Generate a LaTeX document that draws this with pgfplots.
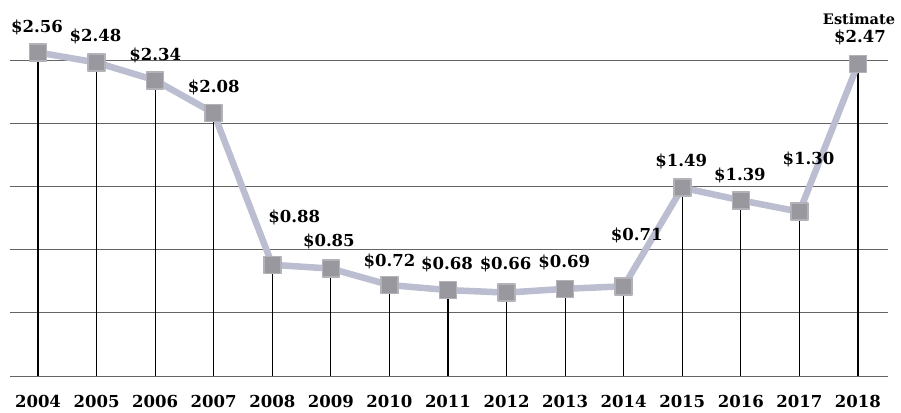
\documentclass[border=0pt]{standalone}
\usepackage{pgfplots}
\pgfplotsset{compat=1.18}
\usepackage{pgfplotstable}
\usepackage{fontspec}
\setmainfont{DejaVu Serif}
\definecolor{linec}{RGB}{186,190,208}
\definecolor{markf}{RGB}{152,152,158}
\definecolor{markd}{RGB}{178,178,184}
\definecolor{gridc}{RGB}{100,100,100}
\pgfplotstableread{
x y dx dy
2004 2.56 -1 25
2005 2.48 -1 26
2006 2.34 0 25
2007 2.08 0 26
2008 0.88 22 47
2009 0.85 -2 27
2010 0.72 0 24
2011 0.68 -1 26
2012 0.66 -1 28
2013 0.69 -1 26
2014 0.71 13 51
2015 1.49 -1 26
2016 1.39 -1 25
2017 1.30 9 52
2018 2.47 2 26
}\prices
\begin{document}
\begin{tikzpicture}
\begin{axis}[
  scale only axis,
  width=878pt, height=316pt,
  xmin=2003.522, xmax=2018.512,
  ymin=0, ymax=2.5,
  clip=false,
  axis line style={draw=none},
  major tick length=0pt,
  xtick={2004,...,2018},
  ytick={0,0.5,...,2.5},
  yticklabels={},
  ymajorgrids,
  grid style={gridc, line width=0.8pt},
  /pgf/number format/1000 sep={},
  /pgf/number format/assume math mode=true,
  xticklabel style={font=\bfseries\fontsize{16.5}{16.5}\selectfont, anchor=center, yshift=-25pt},
]
\path (rel axis cs:-0.0114,-0.114) rectangle (rel axis cs:1.0148,1.19);
\addplot[ycomb, black, line width=1.2pt, no marks] table[x=x,y=y] {\prices};
\addplot[linec, line width=6.5pt, line join=round, mark=square*, mark size=8.5pt,
  mark options={fill=markf, draw=markd, line width=1.5pt},
  nodes near coords={\$\pgfmathprintnumber[fixed,precision=2,fixed zerofill]{\pgfplotspointmeta}},
  point meta=explicit,
  visualization depends on={\thisrow{dx}\as\dx},
  visualization depends on={\thisrow{dy}\as\dy},
  every node near coord/.append style={anchor=center, xshift=\dx pt, yshift=\dy pt,
    text=black, font=\bfseries\fontsize{16.5}{16.5}\selectfont, /pgf/number format/assume math mode=true},
] table[x=x,y=y,meta=y] {\prices};
\node[font=\bfseries\fontsize{14.5}{14.5}\selectfont, anchor=center, xshift=1pt, yshift=45pt] at (axis cs:2018,2.47) {Estimate};
\end{axis}
\end{tikzpicture}
\end{document}
